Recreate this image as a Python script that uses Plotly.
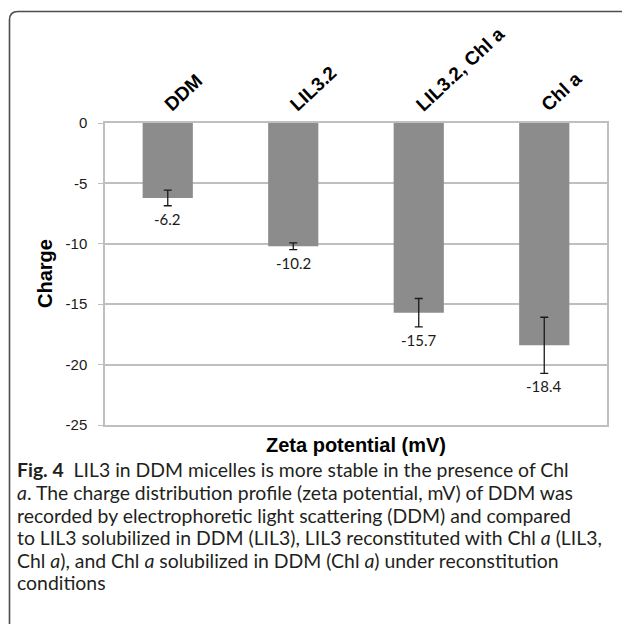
import plotly.graph_objects as go

categories = ["DDM", "LIL3.2", "LIL3.2, Chl a", "Chl a"]
values = [-6.2, -10.2, -15.7, -18.4]
errors = [0.65, 0.28, 1.17, 2.32]
value_labels = ["-6.2", "-10.2", "-15.7", "-18.4"]
y_ticks = [0, -5, -10, -15, -20, -25]

W, H = 622, 624
L, R, T, B = 105, 15, 123, 199
PW = W - L - R
PH = H - T - B


def px(x):
    return (x - L) / PW


def py(y):
    return (H - B - y) / PH


fig = go.Figure()
fig.add_trace(go.Bar(
    x=categories, y=values, width=0.4,
    marker=dict(color="#8c8c8c", line=dict(width=0)),
    error_y=dict(type="data", array=errors, symmetric=True, color="#1a1a1a",
                 thickness=1.3, width=4),
    hoverinfo="skip",
))

annotations = []
for c, v, e, lab in zip(categories, values, errors, value_labels):
    annotations.append(dict(x=c, y=v - e, xref="x", yref="y", text=lab,
                            showarrow=False, xanchor="center", yanchor="top",
                            yshift=-2, font=dict(family="Lato", size=15, color="#1a1a1a")))
    annotations.append(dict(x=c, y=1, xref="x", yref="paper", text=c,
                            showarrow=False, xanchor="left", yanchor="bottom",
                            textangle=-43, xshift=-10, yshift=5,
                            font=dict(family="Liberation Sans", size=19, color="#000000",
                                      weight="bold")))

annotations.append(dict(x=0.5, y=py(445), xref="paper", yref="paper",
                        text="<b>Zeta potential (mV)</b>", showarrow=False,
                        xanchor="center", yanchor="middle",
                        font=dict(family="Liberation Sans", size=20, color="#000000")))
annotations.append(dict(x=px(45), y=0.5, xref="paper", yref="paper",
                        text="<b>Charge</b>", showarrow=False, textangle=-90,
                        xanchor="center", yanchor="middle",
                        font=dict(family="Liberation Sans", size=20, color="#000000")))

caption = [
    "<b>Fig. 4</b>  LIL3 in DDM micelles is more stable in the presence of Chl",
    "<i>a</i>. The charge distribution profile (zeta potential, mV) of DDM was",
    "recorded by electrophoretic light scattering (DDM) and compared",
    "to LIL3 solubilized in DDM (LIL3), LIL3 reconstituted with Chl <i>a</i> (LIL3,",
    "Chl <i>a</i>), and Chl <i>a</i> solubilized in DDM (Chl <i>a</i>) under reconstitution",
    "conditions",
]
line_y = [469, 492, 515, 537, 560, 582]
for t, yy in zip(caption, line_y):
    annotations.append(dict(x=px(15), y=py(yy), xref="paper", yref="paper",
                            text=t, showarrow=False, xanchor="left", yanchor="middle",
                            align="left",
                            font=dict(family="Lato", size=19.4, color="#231f20")))

frame_path = (f"M {px(9.5)},{py(630)} L {px(9.5)},{py(20)} "
              f"Q {px(9.5)},{py(11.5)} {px(18)},{py(11.5)} L {px(630)},{py(11.5)}")

fig.update_layout(
    width=W, height=H,
    margin=dict(l=L, r=R, t=T, b=B),
    paper_bgcolor="white", plot_bgcolor="white",
    showlegend=False,
    bargap=0.6,
    annotations=annotations,
    shapes=[dict(type="path", path=frame_path, xref="paper", yref="paper",
                 line=dict(color="#4d4d4d", width=1.6), layer="above")],
    xaxis=dict(showticklabels=False, showgrid=False, zeroline=False,
               showline=True, mirror=True, linecolor="#bfbfbf", linewidth=1.5,
               ticks=""),
    yaxis=dict(range=[-25, 0], tickvals=y_ticks, ticktext=[str(v) for v in y_ticks],
               showgrid=True, gridcolor="#bfbfbf", gridwidth=1.5,
               zeroline=False, showline=True, mirror=True, linecolor="#bfbfbf",
               linewidth=1.5, ticks="outside", ticklen=5, tickcolor="#bfbfbf",
               ticklabelstandoff=8,
               tickfont=dict(family="Liberation Sans", size=15, color="#1a1a1a")),
)

fig.write_html("out.html")
